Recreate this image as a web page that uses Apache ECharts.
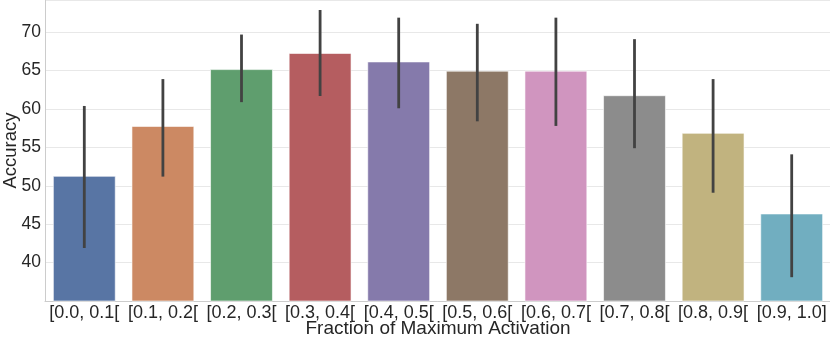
<!DOCTYPE html>
<html>
<head>
<meta charset="utf-8">
<script src="https://cdn.jsdelivr.net/npm/echarts@6/dist/echarts.min.js"></script>
<style>
  html, body { margin: 0; padding: 0; background: #fff; }
  #chart { width: 830px; height: 337px; }
</style>
</head>
<body>
<div id="chart"></div>
<script>
  // data
  const categories = ['[0.0, 0.1[', '[0.1, 0.2[', '[0.2, 0.3[', '[0.3, 0.4[', '[0.4, 0.5[',
    '[0.5, 0.6[', '[0.6, 0.7[', '[0.7, 0.8[', '[0.8, 0.9[', '[0.9, 1.0]'];
  const accuracy = [51.3, 57.8, 65.2, 67.3, 66.2, 65.0, 65.0, 61.8, 56.9, 46.4];
  const errLow = [41.9, 51.2, 60.9, 61.7, 60.1, 58.4, 57.8, 54.9, 49.1, 38.1];
  const errHigh = [60.4, 63.9, 69.7, 72.9, 71.9, 71.1, 71.9, 69.1, 63.9, 54.1];
  const yTicks = [40, 45, 50, 55, 60, 65, 70];

  // seaborn "deep" palette, desaturated
  const colors = ['#5875a4', '#cc8963', '#5f9e6e', '#b55d60', '#857aab',
    '#8d7866', '#d095bf', '#8c8c8c', '#c1b37f', '#71aec0'];

  let myChart = echarts.init(document.getElementById('chart'));
  const font = 'Liberation Sans, Arial, sans-serif';

  myChart.setOption({
    animation: false,
    grid: {
      left: 45,
      right: -1,
      top: 0,
      bottom: 36,
      containLabel: false,
      outerBoundsMode: 'none'
    },
    xAxis: {
      type: 'category',
      data: categories,
      name: 'Fraction of Maximum Activation',
      nameLocation: 'middle',
      nameGap: 18,
      nameMoveOverlap: false,
      nameTextStyle: { color: '#262626', fontSize: 19, fontFamily: font },
      axisLine: { show: true, lineStyle: { color: '#cccccc', width: 1 } },
      axisTick: { show: false },
      axisLabel: { color: '#262626', fontSize: 18, fontFamily: font, margin: 3, interval: 0 },
      splitLine: { show: false }
    },
    yAxis: {
      type: 'value',
      min: 35,
      max: 74.2,
      interval: 5,
      name: 'Accuracy',
      nameLocation: 'middle',
      nameGap: 25,
      nameMoveOverlap: false,
      nameTextStyle: { color: '#262626', fontSize: 18.5, fontFamily: font },
      axisLine: { show: true, lineStyle: { color: '#cccccc', width: 1 } },
      axisTick: { show: false },
      axisLabel: {
        color: '#262626', fontSize: 17.5, fontFamily: font, margin: 4,
        formatter: function (v) {
          return yTicks.indexOf(v) >= 0 ? String(v) : '';
        }
      },
      splitLine: {
        show: true,
        lineStyle: { color: '#e8e8e8', width: 1 }
      }
    },
    series: [
      {
        type: 'bar',
        data: accuracy,
        barCategoryGap: '20%',
        itemStyle: {
          color: function (params) {
            return colors[params.dataIndex];
          },
          borderColor: 'rgba(255,255,255,0.6)',
          borderWidth: 1
        }
      },
      {
        // error bars
        type: 'custom',
        data: categories.map((c, i) => [i, errLow[i], errHigh[i]]),
        encode: { x: 0, y: [1, 2] },
        z: 10,
        renderItem: function (params, api) {
          let lo = api.coord([api.value(0), api.value(1)]);
          let hi = api.coord([api.value(0), api.value(2)]);
          return {
            type: 'line',
            shape: { x1: lo[0], y1: lo[1], x2: hi[0], y2: hi[1] },
            style: { stroke: '#424242', lineWidth: 2.8 }
          };
        }
      }
    ]
  });
</script>
</body>
</html>
